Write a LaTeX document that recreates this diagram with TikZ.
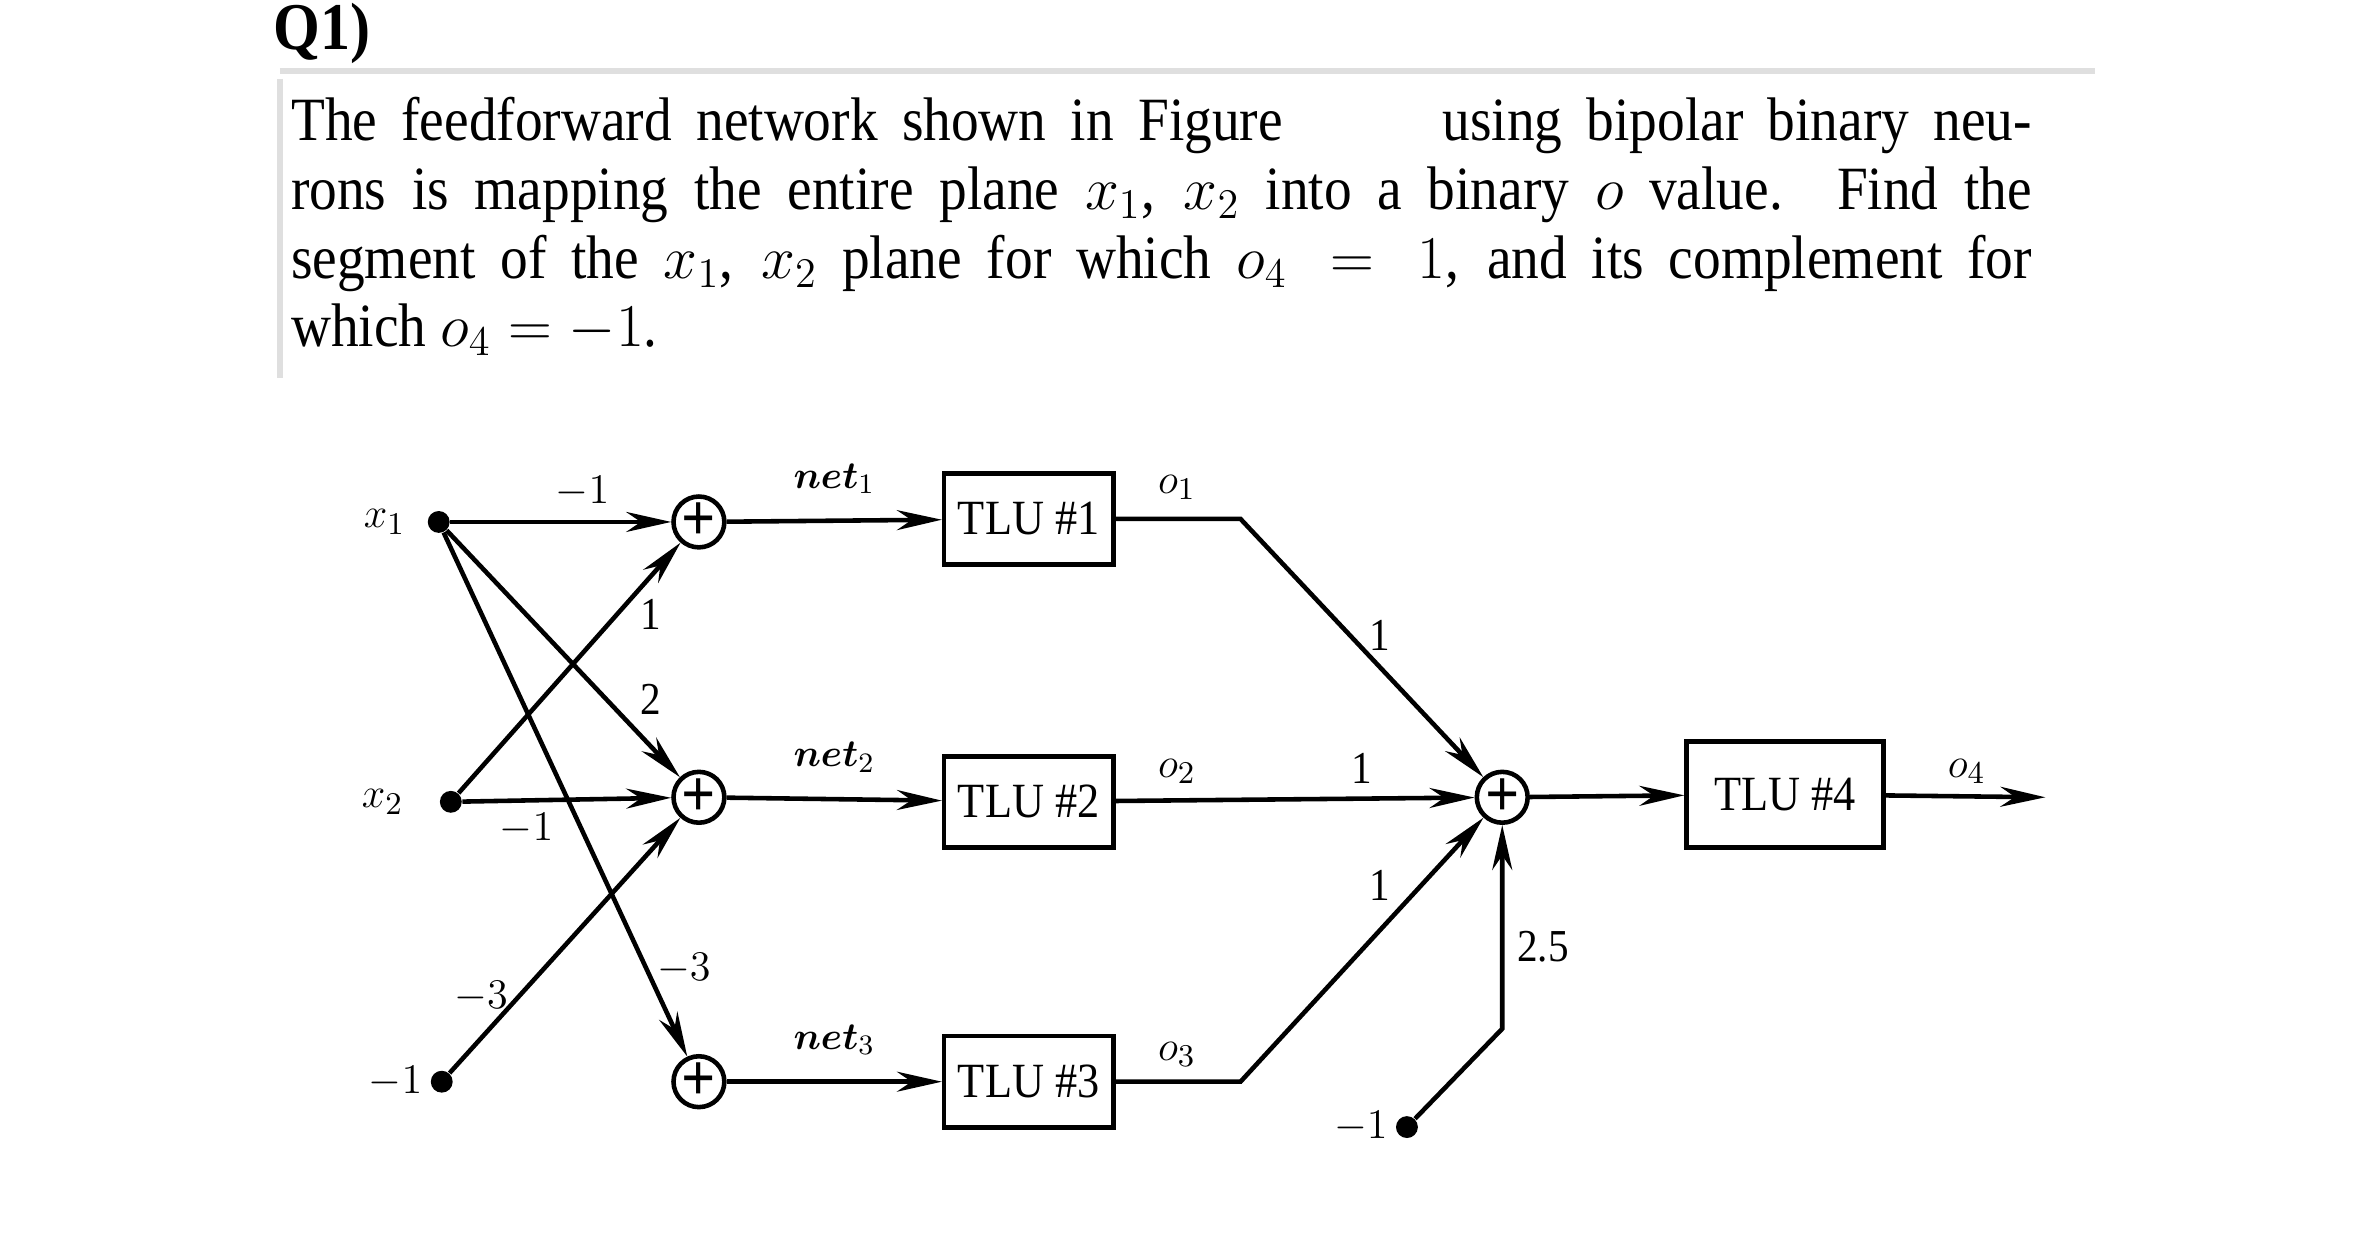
\documentclass[tikz,border=0pt]{standalone}
\usepackage{amsmath}
\usepackage{fontspec}
\setmainfont{Liberation Serif}[FakeStretch=0.9]
\usetikzlibrary{arrows.meta,positioning}
\tikzset{
  dot/.style={circle, fill, inner sep=2.2pt},
  sum/.style={circle, draw, line width=1.3pt, minimum size=0.5cm, inner sep=0pt, font=\fontsize{19}{19}\selectfont\bfseries},
  tlu/.style={draw, line width=1.3pt, minimum width=1.69cm, minimum height=0.91cm, font=\fontsize{14}{14}\selectfont},
  wire/.style={line width=1.3pt},
  arr/.style={wire, -{Stealth[length=0.45cm, width=0.2cm]}},
  lbl/.style={font=\fontsize{13}{13}\selectfont, inner sep=1pt}
}
\begin{document}
\begin{tikzpicture}[x=0.015128cm, y=-0.015128cm]
  \useasboundingbox (0,0) rectangle (1560,828);
  % header
  \node[font=\bfseries\fontsize{19}{19}\selectfont] (q) at (213,22) {Q1)};
  \draw[gray!25, line width=1.5pt] (185,47) -- (1385,47);
  \draw[gray!25, line width=1.5pt] (185,52) -- (185,250);
  \node[anchor=north west, text width=17.4cm, align=justify, inner sep=0pt,
        font=\fontsize{17.5}{19.5}\selectfont] (txt) at (192,64)
  {The feedforward network shown in Figure\hspace{2.2em} using bipolar binary neu-\linebreak
   rons is mapping the entire plane $x_1$, $x_2$ into a binary $o$ value. Find the\linebreak
   segment of the $x_1$, $x_2$ plane for which $o_4=1$, and its complement for\linebreak
   which $o_4=-1$.};

  % inputs
  \node[dot] (x1) at (290,345) {};
  \node[dot] (x2) at (298,530) {};
  \node[dot] (b) at (292,715) {};
  \node[lbl, left=5pt of x1] {$x_1$};
  \node[lbl, left=9pt of x2] {$x_2$};
  \node[lbl, left=1pt of b] {$-1$};

  % first layer
  \node[sum] (s1) at (462,345) {+};
  \node[sum] (s2) at (462,527) {+};
  \node[sum] (s3) at (462,715) {+};
  \node[tlu] (t1) at (680,343) {TLU \#1};
  \node[tlu] (t2) at (680,530) {TLU \#2};
  \node[tlu] (t3) at (680,715) {TLU \#3};

  \draw[arr] (x1) -- (s1);
  \draw[arr] (x1) -- (s2);
  \draw[arr] (x1) -- (s3);
  \draw[arr] (x2) -- (s1);
  \draw[arr] (x2) -- (s2);
  \draw[arr] (b) -- (s2);
  \node[lbl] at (385,325) {$-1$};
  \node[lbl] at (430,406) {1};
  \node[lbl] at (430,462) {2};
  \node[lbl] at (348,548) {$-1$};
  \node[lbl] at (318,659) {$-3$};
  \node[lbl] at (452,640) {$-3$};

  \draw[arr] (s1) -- (t1) node[lbl, midway, above=6pt, font=\fontsize{11}{11}\selectfont] {$\boldsymbol{net}_1$};
  \draw[arr] (s2) -- (t2) node[lbl, midway, above=6pt, font=\fontsize{11}{11}\selectfont] {$\boldsymbol{net}_2$};
  \draw[arr] (s3) -- (t3) node[lbl, midway, above=6pt, font=\fontsize{11}{11}\selectfont] {$\boldsymbol{net}_3$};

  % output layer
  \node[sum] (s4) at (993,527) {+};
  \node[tlu, minimum width=1.97cm, minimum height=1.06cm] (t4) at (1180,525) {TLU \#4};
  \coordinate (k1) at (820,343);
  \coordinate (k3) at (820,715);
  \coordinate (k4) at (993,680);
  \coordinate (out) at (1352,527);
  \node[dot] (b4) at (930,745) {};
  \node[lbl, left=1pt of b4] {$-1$};

  \draw[arr] (t1.east) -- (k1) -- (s4);
  \draw[arr] (t2) -- (s4);
  \draw[arr] (t3.east) -- (k3) -- (s4);
  \draw[arr] (b4) -- (k4) -- (s4);
  \draw[arr] (s4) -- (t4);
  \draw[arr] (t4) -- (out);
  \node[lbl] at (778,322) {$o_1$};
  \node[lbl] at (778,510) {$o_2$};
  \node[lbl] at (778,697) {$o_3$};
  \node[lbl] at (912,420) {1};
  \node[lbl] at (900,508) {1};
  \node[lbl] at (912,585) {1};
  \node[lbl] at (1020,626) {2.5};
  \node[lbl] at (1300,510) {$o_4$};
\end{tikzpicture}
\end{document}
